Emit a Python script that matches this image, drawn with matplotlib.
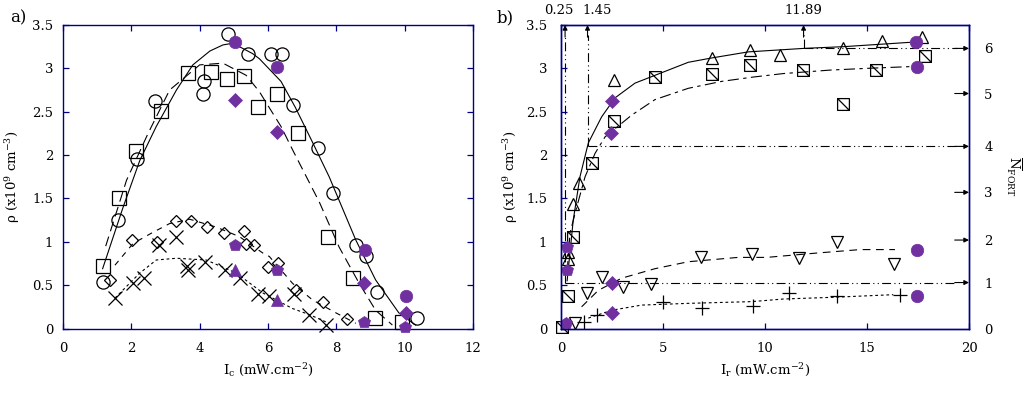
import matplotlib
matplotlib.use("Agg")
import matplotlib.pyplot as plt
from matplotlib.path import Path
import numpy as np

plt.rcParams['font.family'] = ['DejaVu Serif']
plt.rcParams['mathtext.fontset'] = 'dejavuserif'

# ---------------- data: panel a ----------------
circ_x = [1.18, 1.61, 2.18, 2.68, 4.09, 4.14, 4.82, 5.41, 6.09, 6.40, 6.72, 7.47, 7.89, 8.57, 8.88, 9.18, 10.35]
circ_y = [0.54, 1.25, 1.95, 2.62, 2.71, 2.85, 3.40, 3.16, 3.16, 3.16, 2.58, 2.08, 1.56, 0.96, 0.84, 0.42, 0.12]
sq_x = [1.16, 1.64, 2.15, 2.88, 3.66, 4.34, 4.80, 5.29, 5.72, 6.25, 6.87, 7.76, 8.49, 9.12, 9.93]
sq_y = [0.72, 1.51, 2.05, 2.51, 2.95, 2.96, 2.88, 2.91, 2.55, 2.70, 2.26, 1.06, 0.58, 0.12, 0.07]
dia_x = [1.38, 2.03, 2.75, 3.30, 3.76, 4.22, 4.71, 5.30, 5.37, 5.60, 6.00, 6.28, 6.82, 7.61, 8.30]
dia_y = [0.56, 1.02, 1.00, 1.24, 1.24, 1.17, 1.10, 1.12, 0.97, 0.96, 0.71, 0.76, 0.44, 0.30, 0.11]
cross_x = [1.52, 2.05, 2.36, 2.82, 3.32, 3.64, 3.66, 4.17, 4.74, 5.18, 5.70, 6.04, 6.75, 7.21, 7.71]
cross_y = [0.35, 0.52, 0.58, 0.96, 1.05, 0.72, 0.67, 0.77, 0.67, 0.58, 0.40, 0.37, 0.40, 0.16, 0.04]

a_fc_x = [5.02, 6.25, 8.83, 10.03]
a_fc_y = [3.30, 3.01, 0.90, 0.37]
a_fd_x = [5.04, 6.25, 8.81, 10.03]
a_fd_y = [2.64, 2.27, 0.53, 0.18]
a_fp_x = [5.02, 6.25, 8.81, 10.00]
a_fp_y = [0.96, 0.67, 0.07, 0.02]
a_ft_x = [5.04, 6.25]
a_ft_y = [0.68, 0.33]

fit_circ_x = [1.16, 1.76, 2.25, 2.73, 3.32, 3.80, 4.30, 4.68, 4.97, 5.55, 5.75, 6.38, 6.80, 7.30, 7.79, 8.57, 9.15, 9.83, 10.32]
fit_circ_y = [0.69, 1.40, 1.94, 2.33, 2.75, 3.04, 3.20, 3.27, 3.29, 3.17, 3.11, 2.85, 2.55, 2.15, 1.75, 1.02, 0.56, 0.18, 0.04]
fit_sq_x = [1.25, 1.86, 2.49, 3.12, 4.00, 4.68, 5.36, 5.75, 5.89, 6.38, 6.72, 7.50, 8.08, 8.67, 9.15, 9.64]
fit_sq_y = [0.95, 1.71, 2.25, 2.75, 3.04, 3.06, 2.92, 2.73, 2.64, 2.33, 2.06, 1.46, 0.94, 0.52, 0.21, 0.04]
fit_dia_x = [1.52, 2.05, 2.59, 3.12, 3.71, 4.48, 5.16, 5.85, 6.04, 6.72, 7.30, 7.99, 8.57]
fit_dia_y = [0.73, 0.98, 1.10, 1.21, 1.26, 1.17, 1.06, 0.87, 0.83, 0.52, 0.33, 0.18, 0.06]
fit_cross_x = [1.52, 2.25, 2.73, 3.32, 4.19, 5.07, 5.85, 6.72, 7.21, 7.79]
fit_cross_y = [0.35, 0.64, 0.79, 0.81, 0.79, 0.64, 0.41, 0.23, 0.16, 0.06]

# ---------------- data: panel b ----------------
tri_x = [0.36, 0.36, 0.60, 0.88, 2.61, 7.39, 9.26, 10.74, 13.84, 15.75, 17.71]
tri_y = [0.80, 0.88, 1.44, 1.68, 2.87, 3.12, 3.21, 3.15, 3.24, 3.32, 3.36]
bsq_x = [0.03, 0.33, 0.60, 1.50, 2.61, 4.61, 7.39, 9.26, 11.88, 13.81, 15.42, 17.84]
bsq_y = [0.02, 0.38, 1.06, 1.91, 2.39, 2.90, 2.94, 3.04, 2.98, 2.59, 2.98, 3.14]
inv_x = [0.69, 1.26, 2.00, 3.05, 4.40, 6.85, 9.35, 11.68, 13.51, 16.34]
inv_y = [0.06, 0.41, 0.59, 0.48, 0.51, 0.82, 0.86, 0.81, 1.00, 0.74]
plus_x = [1.13, 1.75, 5.01, 6.90, 9.43, 11.19, 13.55, 16.62]
plus_y = [0.08, 0.16, 0.31, 0.24, 0.26, 0.41, 0.37, 0.39]

b_fd_x = [2.52, 2.45, 2.48, 2.48]
b_fd_y = [2.62, 2.25, 0.53, 0.18]
b_fp_x = [0.28, 0.28, 0.25]
b_fp_y = [0.94, 0.67, 0.06]
b_fc_x = [17.40, 17.43, 17.43, 17.43]
b_fc_y = [3.30, 3.02, 0.90, 0.37]

rfit_tri_x = [0.30, 0.60, 0.93, 1.34, 1.99, 2.65, 3.63, 4.61, 6.24, 7.39, 9.18, 11.88, 13.84, 15.80, 17.10]
rfit_tri_y = [0.55, 1.25, 1.75, 2.14, 2.44, 2.66, 2.83, 2.92, 3.07, 3.12, 3.19, 3.23, 3.25, 3.28, 3.30]
rfit_sq_x = [0.30, 0.44, 0.77, 1.18, 1.67, 2.16, 3.46, 4.61, 6.24, 7.88, 9.43, 10.90, 13.19, 14.99, 17.10]
rfit_sq_y = [0.65, 1.10, 1.40, 1.75, 2.02, 2.21, 2.46, 2.64, 2.77, 2.85, 2.90, 2.94, 2.98, 3.00, 3.02]
rfit_inv_x = [1.01, 1.83, 2.97, 4.61, 6.24, 8.69, 10.08, 12.53, 14.66, 16.37]
rfit_inv_y = [0.25, 0.44, 0.58, 0.69, 0.77, 0.82, 0.82, 0.87, 0.91, 0.91]
rfit_plus_x = [1.34, 2.48, 3.95, 6.24, 9.35, 10.90, 13.35, 16.29]
rfit_plus_y = [0.12, 0.21, 0.27, 0.29, 0.31, 0.34, 0.36, 0.39]

nfort_labels = ['0', '1', '2', '3', '4', '5', '6']
nfort_rho = [0.0, 0.53, 1.02, 1.57, 2.10, 2.71, 3.23]
guide_x = [0.2, 1.3, 11.89]
guide_rho = [0.53, 2.10, 3.23]
guide_labels = ['0.25', '1.45', '11.89']

# ---------------- styling ----------------
NAVY = '#000080'
PURPLE = '#7030A0'
FS = 9.5

fig = plt.figure(figsize=(10.36, 3.93), dpi=100)
axa = fig.add_axes([63/1036, 64.5/393, 410/1036, 303.5/393])
axb = fig.add_axes([561/1036, 64.5/393, 408/1036, 303.5/393])

# box-with-diagonal marker
diag_sq = Path([(-1, -1), (1, -1), (1, 1), (-1, 1), (-1, -1), (-1, 1), (1, -1)],
               [Path.MOVETO, Path.LINETO, Path.LINETO, Path.LINETO, Path.CLOSEPOLY,
                Path.MOVETO, Path.LINETO])

def open_mk(ax, x, y, m, ms, mew=0.9):
    ax.plot(x, y, ls='none', marker=m, ms=ms, mfc='none', mec='k', mew=mew, clip_on=False, zorder=3)

def fill_mk(ax, x, y, m, ms):
    ax.plot(x, y, ls='none', marker=m, ms=ms, mfc=PURPLE, mec=PURPLE, mew=0.5, clip_on=False, zorder=4)

def style(ax, xlim, xticks, xlabels, ypad, right_ticks=True):
    ax.set_xlim(*xlim)
    ax.set_ylim(0, 3.5)
    ax.set_xticks(xticks)
    ax.set_xticklabels(xlabels, fontsize=FS)
    ax.set_yticks([0, 0.5, 1, 1.5, 2, 2.5, 3, 3.5])
    ax.set_yticklabels(['0', '0.5', '1', '1.5', '2', '2.5', '3', '3.5'], fontsize=FS)
    for s in ax.spines.values():
        s.set_color(NAVY)
        s.set_linewidth(1.0)
    ax.tick_params(axis='x', direction='in', top=True, bottom=True, length=4, width=0.9,
                   color=NAVY, pad=10)
    ax.tick_params(axis='y', direction='in', left=True, right=right_ticks, length=4, width=0.9,
                   color=NAVY, pad=ypad)

# ---------------- panel a ----------------
axa.plot(fit_circ_x, fit_circ_y, color='k', lw=0.8, ls='-')
axa.plot(fit_sq_x, fit_sq_y, color='k', lw=0.8, dashes=(9, 5))
axa.plot(fit_dia_x, fit_dia_y, color='k', lw=0.8, dashes=(5, 5))
axa.plot(fit_cross_x, fit_cross_y, color='k', lw=0.8, dashes=(2.5, 2.5))

open_mk(axa, circ_x, circ_y, 'o', 9.5)
open_mk(axa, sq_x, sq_y, 's', 9.5)
open_mk(axa, dia_x, dia_y, 'D', 6.5)
open_mk(axa, cross_x, cross_y, 'x', 9.5)
fill_mk(axa, a_fc_x, a_fc_y, 'o', 9)
fill_mk(axa, a_fd_x, a_fd_y, 'D', 7.5)
fill_mk(axa, a_fp_x, a_fp_y, 'p', 9)
fill_mk(axa, a_ft_x, a_ft_y, '^', 8)

style(axa, (0, 12), [0, 2, 4, 6, 8, 10, 12], ['0', '2', '4', '6', '8', '10', '12'], 7)
axa.set_xlabel(r'I$_{\mathrm{c}}$ (mW.cm$^{-2}$)', fontsize=FS, labelpad=5)
axa.set_ylabel(r'ρ (x10$^{9}$ cm$^{-3}$)', fontsize=FS, labelpad=7)
fig.text(18/1036, 1 - 18/393, 'a)', fontsize=12, ha='center', va='center')

# ---------------- panel b ----------------
GUIDE = (8, 3, 1, 3, 1, 3)
for gx, gr in zip(guide_x, guide_rho):
    axb.plot([gx, gx], [gr, 3.38], color='k', lw=0.8, dashes=GUIDE, zorder=2)
    axb.annotate('', xy=(gx, 3.5), xytext=(gx, 3.36),
                 arrowprops=dict(arrowstyle='-|>', color='k', lw=0.8, mutation_scale=7,
                                 shrinkA=0, shrinkB=0), annotation_clip=False)
    axb.plot([gx, 19.4], [gr, gr], color='k', lw=0.8, dashes=GUIDE, zorder=2)
for r in nfort_rho[1:]:
    axb.annotate('', xy=(20, r), xytext=(19.3, r),
                 arrowprops=dict(arrowstyle='-|>', color='k', lw=0.8, mutation_scale=7,
                                 shrinkA=0, shrinkB=0), annotation_clip=False)
label_offsets = [-0.1, 1.75, 11.89]
for lx, lt in zip(label_offsets, guide_labels):
    axb.text(lx, 1.0 + 14/303.5, lt, transform=axb.get_xaxis_transform(), fontsize=FS,
             ha='center', va='center')

axb.plot(rfit_tri_x, rfit_tri_y, color='k', lw=0.8, ls='-')
axb.plot(rfit_sq_x, rfit_sq_y, color='k', lw=0.8, dashes=(10, 4, 3, 4))
axb.plot(rfit_inv_x, rfit_inv_y, color='k', lw=0.8, dashes=(7, 5))
axb.plot(rfit_plus_x, rfit_plus_y, color='k', lw=0.8, dashes=(2.5, 2.5))

open_mk(axb, tri_x, tri_y, '^', 8)
open_mk(axb, bsq_x, bsq_y, diag_sq, 8.5)
open_mk(axb, inv_x, inv_y, 'v', 8)
open_mk(axb, plus_x, plus_y, '+', 10)
fill_mk(axb, b_fd_x, b_fd_y, 'D', 7.5)
fill_mk(axb, b_fp_x, b_fp_y, 'p', 9)
fill_mk(axb, b_fc_x, b_fc_y, 'o', 9)

style(axb, (0, 20), [0, 5, 10, 15, 20], ['0', '5', '10', '15', '20'], 10, right_ticks=False)
axb.set_xlabel(r'I$_{\mathrm{r}}$ (mW.cm$^{-2}$)', fontsize=FS, labelpad=5)
axb.set_ylabel(r'ρ (x10$^{9}$ cm$^{-3}$)', fontsize=FS, labelpad=4)
fig.text(505/1036, 1 - 18/393, 'b)', fontsize=12, ha='center', va='center')

ax2 = axb.twinx()
ax2.set_ylim(0, 3.5)
ax2.set_yticks(nfort_rho)
ax2.set_yticklabels(nfort_labels, fontsize=FS)
ax2.tick_params(axis='y', length=0, pad=11)
for s in ax2.spines.values():
    s.set_color(NAVY)
    s.set_linewidth(1.0)
ax2.set_ylabel(r'$\overline{\mathrm{N}}_{\mathrm{FORT}}$', fontsize=FS, rotation=270, labelpad=22)

fig.savefig('out.png', dpi=100)
